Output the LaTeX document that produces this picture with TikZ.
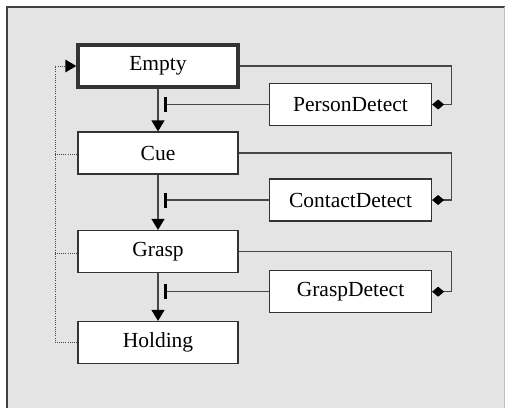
\documentclass[tikz,border=0pt]{standalone}
\usepackage{fontspec}
\setmainfont{Liberation Serif}
\usetikzlibrary{arrows.meta,calc}
\definecolor{bgc}{HTML}{E4E4E4}
\definecolor{lnc}{HTML}{474747}
\tikzset{
  statebox/.style={draw=black!80, fill=white, line width=1.2pt, minimum width=160pt, minimum height=42pt, inner sep=0pt, font=\fontsize{21.5}{25}\selectfont},
  detbox/.style={statebox, minimum width=162pt},
  conn/.style={draw=lnc, line width=1.2pt},
  fwd/.style={conn, -{Triangle[length=11pt,width=13pt,color=black,fill=black]}},
  inhib/.style={conn, -{Bar[width=15pt,line width=3pt,color=black]}},
  diam/.style={conn, -{Diamond[length=12pt,width=10pt,color=black,fill=black]}},
  dots/.style={draw=lnc, line width=0.9pt, dash pattern=on 1pt off 1.2pt},
}
\begin{document}
\begin{tikzpicture}[x=1pt,y=-1pt]
\useasboundingbox (0,0) rectangle (505,408);
\fill[bgc] (6.7,6.7) rectangle (505,408);
\draw[black!75, line width=1.8pt] (6.7,408) -- (6.7,6.7) -- (504.5,6.7);
\draw[black!25, line width=0.8pt] (504.5,6.7) -- (504.5,408);

\node[statebox, line width=3.5pt] (Empty) at (158,66) {Empty};
\node[statebox] (Cue) at (158,153) {Cue};
\node[statebox] (Grasp) at (158,251.5) {Grasp};
\node[statebox] (Holding) at (158,342.5) {Holding};
\node[detbox] (PD) at (350.5,104.5) {PersonDetect};
\node[detbox] (CD) at (350.5,200) {ContactDetect};
\node[detbox] (GD) at (350.5,291.7) {GraspDetect};

\coordinate (dl) at (55,66);

\draw[fwd] (Empty.south) -- (Cue.north);
\draw[fwd] (Cue.south) -- (Grasp.north);
\draw[fwd] (Grasp.south) -- (Holding.north);

\draw[inhib] (PD.west) -- ([xshift=6pt]PD.west -| Empty.south);
\draw[inhib] (CD.west) -- ([xshift=6pt]CD.west -| Cue.south);
\draw[inhib] (GD.west) -- ([xshift=6pt]GD.west -| Grasp.south);

\draw[diam] (Empty.east) -| ([xshift=19.5pt]PD.east) -- (PD.east);
\draw[diam] (Cue.east) -| ([xshift=19.5pt]CD.east) -- (CD.east);
\draw[diam] (Grasp.east) -| ([xshift=19.5pt]GD.east) -- (GD.east);

\draw[dots] (Holding.west) -| (dl) -- ([xshift=-10pt]Empty.west);
\fill[black] (Empty.west) -- ++(-11,-6.5) -- ++(0,13) -- cycle;
\draw[dots] ([yshift=-1.5pt]Cue.west) -- ([yshift=-1.5pt]Cue.west -| dl);
\draw[dots] ([yshift=-1.5pt]Grasp.west) -- ([yshift=-1.5pt]Grasp.west -| dl);
\end{tikzpicture}
\end{document}
